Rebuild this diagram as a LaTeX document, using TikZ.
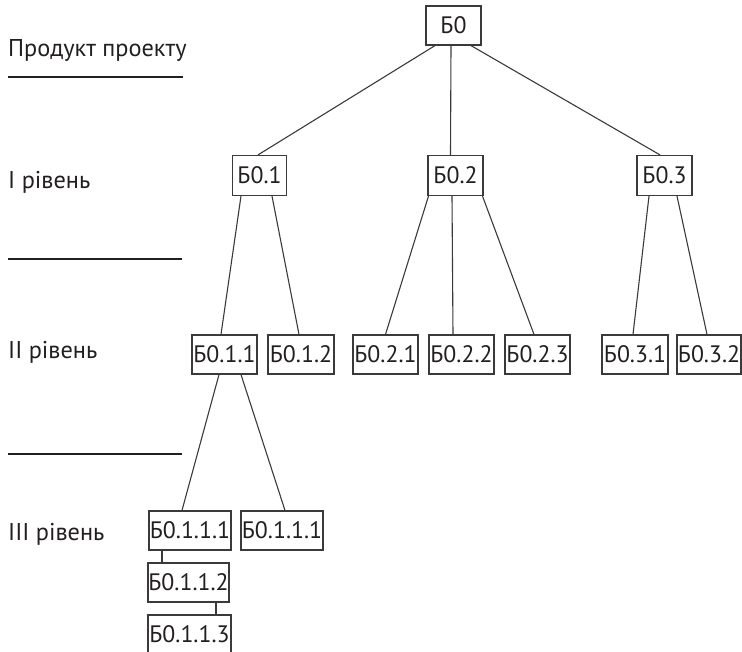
\documentclass[tikz,border=0pt]{standalone}
\usepackage{fontspec}
\setmainfont{PT Sans}
\definecolor{ink}{HTML}{231F20}
\definecolor{frame}{HTML}{3A3A3A}
\tikzset{
  box/.style={draw=frame, line width=1.2pt, inner sep=0pt, minimum height=39pt,
    text=ink, font=\fontsize{23.8}{27}\selectfont},
  lvl/.style={anchor=base west, inner sep=0pt, text=ink, font=\fontsize{24.3}{28}\selectfont},
  link/.style={draw=frame, line width=1.1pt},
  sep/.style={draw=ink, line width=2.6pt}
}
\begin{document}
\begin{tikzpicture}[x=1pt, y=-1pt]
\useasboundingbox (0,0) rectangle (742,652);

% level captions and separators
\node[lvl] (l0) at (8,57) {Продукт проекту};
\node[lvl] (l1) at (8,189) {І рівень};
\node[lvl] (l2) at (8,359) {ІІ рівень};
\node[lvl] (l3) at (8,540) {ІІІ рівень};
\draw[sep] (8,77) -- (183,77);
\draw[sep] (8,259) -- (182,259);
\draw[sep] (8,454) -- (182,454);

% root
\node[box, minimum width=55pt] (b0) at (453.5,25.5) {Б0};

% level I
\node[box, minimum width=54pt, minimum height=40pt] (b01) at (259.5,175.5) {Б0.1};
\node[box, minimum width=55pt, minimum height=40pt] (b02) at (455.5,175.5) {Б0.2};
\node[box, minimum width=55pt, minimum height=40pt] (b03) at (664.5,175.5) {Б0.3};

% level II
\node[box, minimum width=65pt] (b011) at (224.5,354.5) {Б0.1.1};
\node[box, minimum width=66pt] (b012) at (301,354.5) {Б0.1.2};
\node[box, minimum width=65pt] (b021) at (385.5,354.5) {Б0.2.1};
\node[box, minimum width=65pt] (b022) at (461.5,354.5) {Б0.2.2};
\node[box, minimum width=65pt] (b023) at (537.5,354.5) {Б0.2.3};
\node[box, minimum width=66pt] (b031) at (635,354.5) {Б0.3.1};
\node[box, minimum width=64pt] (b032) at (709,354.5) {Б0.3.2};

% level III
\node[box, minimum width=82pt] (b0111) at (190,530.5) {Б0.1.1.1};
\node[box, minimum width=82pt] (b0111b) at (282,530.5) {Б0.1.1.1};
\node[box, minimum width=81pt] (b0112) at (188.5,582.5) {Б0.1.1.2};
\node[box, minimum width=83pt] (b0113) at (189.5,634.5) {Б0.1.1.3};

% connectors
\draw[link] ([xshift=-18.5pt]b0.south) -- ([xshift=-1.5pt]b01.north);
\draw[link] ([xshift=-2.5pt]b0.south) -- ([xshift=-5pt]b02.north);
\draw[link] ([xshift=17.5pt]b0.south) -- ([xshift=-4.5pt]b03.north);

\draw[link] ([xshift=-18.5pt]b01.south) -- ([xshift=-3.5pt]b011.north);
\draw[link] ([xshift=12.5pt]b01.south) -- ([xshift=-2pt]b012.north);

\draw[link] ([xshift=-27pt]b02.south) -- (b021.north);
\draw[link] ([xshift=-3.5pt]b02.south) -- ([xshift=-8.5pt]b022.north);
\draw[link] ([xshift=27pt]b02.south) -- ([xshift=-3.5pt]b023.north);

\draw[link] ([xshift=-15.5pt]b03.south) -- ([xshift=-2pt]b031.north);
\draw[link] ([xshift=12.5pt]b03.south) -- ([xshift=-2pt]b032.north);

\draw[link] ([xshift=-5.5pt]b011.south) -- ([xshift=-8pt]b0111.north);
\draw[link] ([xshift=16.5pt]b011.south) -- ([xshift=3pt]b0111b.north);

\draw[link] ([xshift=-28pt]b0111.south) -- ([xshift=-26.5pt]b0112.north);
\draw[link] ([xshift=27.5pt]b0112.south) -- ([xshift=26.5pt]b0113.north);
\end{tikzpicture}
\end{document}
